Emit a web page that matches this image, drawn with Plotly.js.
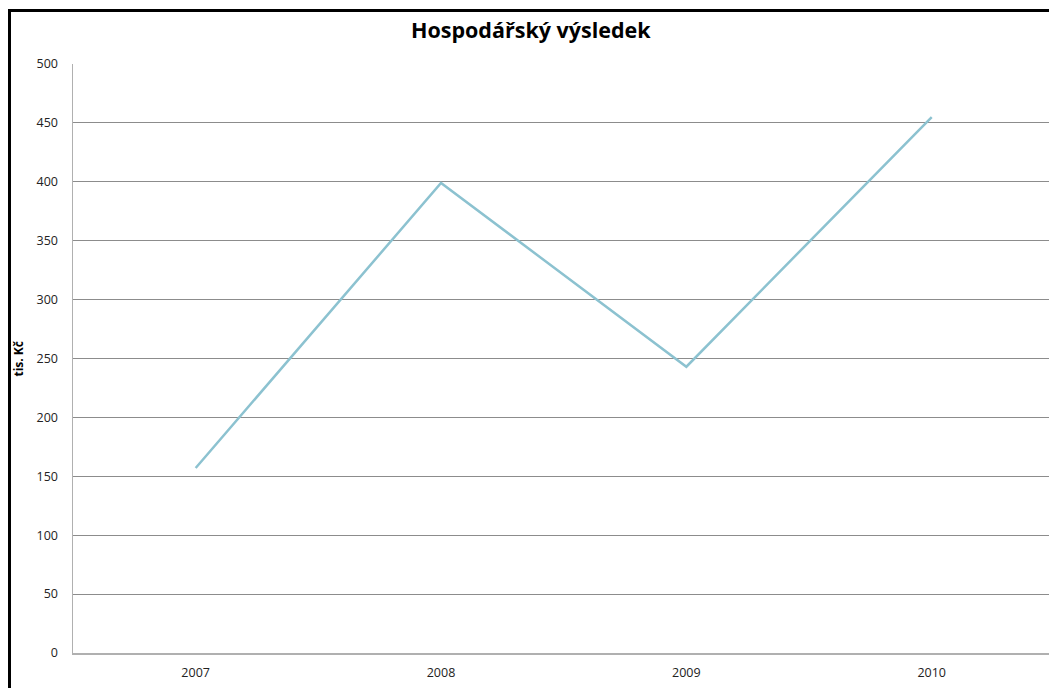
<!DOCTYPE html>
<html><head><meta charset="utf-8">
<script src="https://cdn.plot.ly/plotly-3.0.1.min.js"></script>
<style>
html,body{margin:0;padding:0;overflow:hidden;background:#fff;width:1049px;height:688px;}
#chart{position:absolute;left:0;top:0;width:1049px;height:688px;}
#frame{position:absolute;left:8px;top:9px;width:1100px;height:720px;border-left:3px solid #000;border-top:3px solid #000;pointer-events:none;}
</style></head>
<body>
<div id="chart"></div>
<div id="frame"></div>
<script>
const years = ['2007','2008','2009','2010'];
const values = [157, 399, 243, 455];
const yTicks = [0,50,100,150,200,250,300,350,400,450,500];

Plotly.newPlot('chart', [{
  x: years, y: values, type: 'scatter', mode: 'lines',
  line: {color: '#8cc2d0', width: 2.5}, hoverinfo: 'skip'
}], {
  width: 1049, height: 688,
  margin: {l: 73, r: 0, t: 64, b: 35},
  paper_bgcolor: 'rgba(0,0,0,0)', plot_bgcolor: '#fff',
  showlegend: false,
  title: {text: 'Hospodářský výsledek', x: 0.506, xanchor: 'center', y: 0.955, yanchor: 'middle',
          font: {family: 'Open Sans, sans-serif', size: 21.5, color: '#000', weight: 'bold'}},
  xaxis: {type: 'category', range: [-0.5, 3.478], showgrid: false, zeroline: false,
          showline: true, linecolor: '#b0b0b0', linewidth: 1.5, ticks: '',
          tickfont: {family: 'Open Sans, sans-serif', size: 12.5, color: '#222'}, ticklabelstandoff: 7},
  yaxis: {range: [0, 500], tickvals: yTicks, ticktext: yTicks.map(String), showgrid: true,
          gridcolor: '#8c8c8c', gridwidth: 1, zeroline: false, showline: true, linecolor: '#b0b0b0', linewidth: 1.5,
          ticks: '', ticklabelstandoff: 11,
          tickfont: {family: 'Open Sans, sans-serif', size: 12.5, color: '#222'}},
  annotations: [{text: 'tis. Kč', xref: 'paper', yref: 'paper', x: 0, y: 0.5, xshift: -55,
                 xanchor: 'center', yanchor: 'middle', textangle: -90, showarrow: false,
                 font: {family: 'Open Sans, sans-serif', size: 12, color: '#000', weight: 'bold'}}]
}, {displayModeBar: false, staticPlot: true});
</script>
</body></html>
